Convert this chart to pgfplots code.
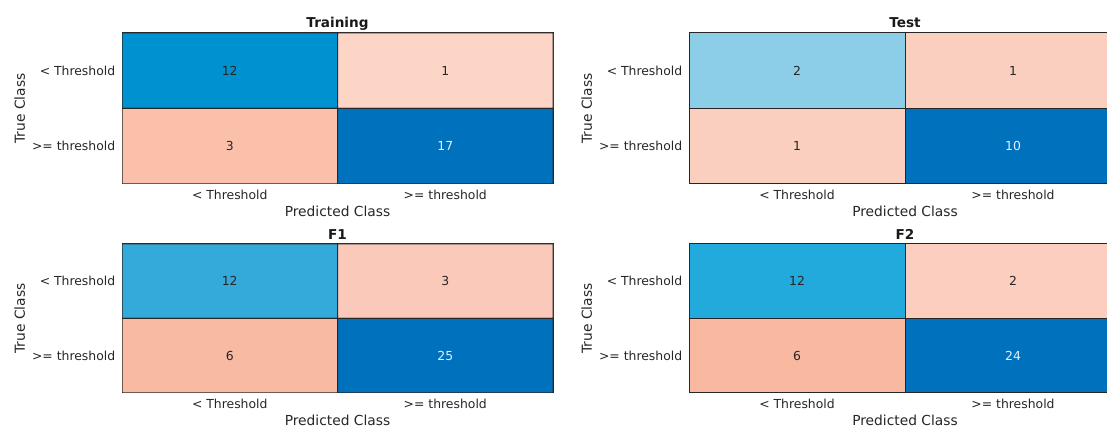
\documentclass[border=0pt]{standalone}
\usepackage{fontspec}
\setmainfont{DejaVu Sans}
\usepackage{pgfplots}
\pgfplotsset{compat=1.18}

\definecolor{ink}{RGB}{38,38,38}
\definecolor{inklight}{RGB}{228,240,250}

\newcommand\tickfont{\fontsize{6.2}{7.4}\selectfont}
\newcommand\labfont{\fontsize{6.9}{8.3}\selectfont}
\newcommand\titfont{\bfseries\fontsize{6.8}{8.2}\selectfont}

\pgfplotsset{
  cm/.style={
    scale only axis,
    width=215.5pt, height=75.5pt,
    xmin=-0.5, xmax=1.5, ymin=-0.5, ymax=1.5,
    y dir=reverse,
    xtick={0,1}, ytick={0,1},
    xticklabels={< Threshold, >= threshold},
    yticklabels={< Threshold, >= threshold},
    major tick length=0pt,
    tick style={draw=none},
    axis line style={draw=ink, line width=0.5pt},
    ticklabel style={font=\tickfont, text=ink},
    xticklabel style={anchor=north, inner sep=0pt, yshift=-3pt},
    yticklabel style={anchor=east, inner sep=0pt, xshift=-3.2pt},
    every axis x label/.style={at={(axis description cs:0.5,-0.1424)},
      anchor=north, inner sep=0pt, font=\labfont, text=ink},
    every axis y label/.style={at={(axis description cs:-0.2251,0.5)},
      rotate=90, anchor=base, inner sep=0pt, font=\labfont, text=ink},
    every axis title/.style={at={(axis description cs:0.5,1.0331)},
      anchor=base, inner sep=0pt, font=\titfont, text=black!90},
    xlabel={Predicted Class},
    ylabel={True Class},
    /pgf/number format/assume math mode=true,
  },
  cells/.style={matrix plot*, mesh/cols=2, mesh/color input=explicit,
    point meta=explicit symbolic, draw=ink, line width=0.5pt},
  counts/.style={only marks, mark=none, point meta=explicit,
    nodes near coords, nodes near coords align=center,
    every node near coord/.append style={font=\tickfont, text=#1}},
}

\begin{document}
\begin{tikzpicture}

% Training
\begin{axis}[cm, at={(61pt,121pt)}, anchor=south west, title={Training}]
\addplot[cells] coordinates {
  (0,0) [rgb255=0,145,208]   (1,0) [rgb255=253,213,198]
  (0,1) [rgb255=251,192,170] (1,1) [rgb255=0,113,189]
};
\addplot[counts=ink] coordinates {(0,0) [12] (1,0) [1] (0,1) [3]};
\addplot[counts=inklight] coordinates {(1,1) [17]};
\end{axis}

% Test
\begin{axis}[cm, width=216pt, at={(344.5pt,121pt)}, anchor=south west, title={Test}]
\addplot[cells] coordinates {
  (0,0) [rgb255=140,205,232] (1,0) [rgb255=251,207,192]
  (0,1) [rgb255=251,207,192] (1,1) [rgb255=0,113,189]
};
\addplot[counts=ink] coordinates {(0,0) [2] (1,0) [1] (0,1) [1]};
\addplot[counts=inklight] coordinates {(1,1) [10]};
\end{axis}

% F1
\begin{axis}[cm, height=74.5pt, at={(61pt,16.5pt)}, anchor=south west, title={F1}]
\addplot[cells] coordinates {
  (0,0) [rgb255=52,170,218]  (1,0) [rgb255=250,201,186]
  (0,1) [rgb255=248,186,163] (1,1) [rgb255=0,113,189]
};
\addplot[counts=ink] coordinates {(0,0) [12] (1,0) [3] (0,1) [6]};
\addplot[counts=inklight] coordinates {(1,1) [25]};
\end{axis}

% F2
\begin{axis}[cm, width=216pt, height=74.5pt, at={(344.5pt,16.5pt)}, anchor=south west, title={F2}]
\addplot[cells] coordinates {
  (0,0) [rgb255=33,170,219]  (1,0) [rgb255=251,206,191]
  (0,1) [rgb255=249,185,160] (1,1) [rgb255=0,113,189]
};
\addplot[counts=ink] coordinates {(0,0) [12] (1,0) [2] (0,1) [6]};
\addplot[counts=inklight] coordinates {(1,1) [24]};
\end{axis}

% page frame: the right-hand panels run past the edge
\pgfresetboundingbox
\path[use as bounding box] (0,0) rectangle (553.5pt,213pt);
\end{tikzpicture}
\end{document}
